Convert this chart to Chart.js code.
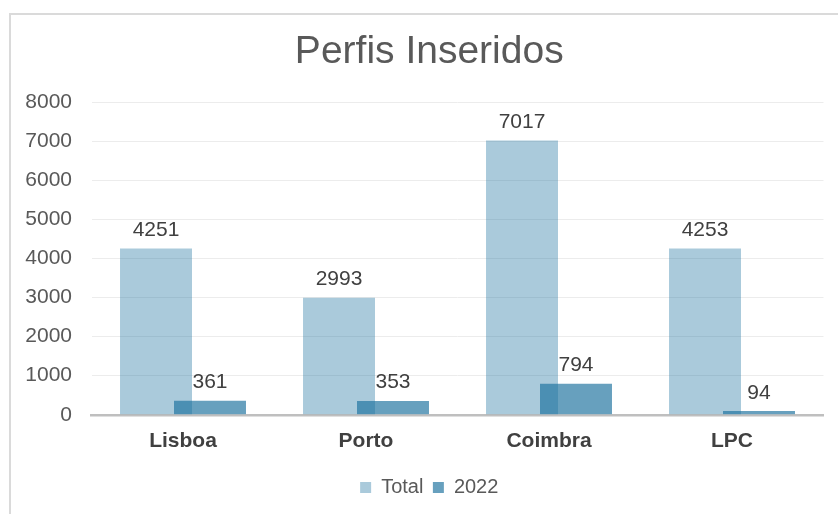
<!DOCTYPE html>
<html>
<head>
<meta charset="utf-8">
<script src="https://cdn.jsdelivr.net/npm/chart.js@4/dist/chart.umd.min.js"></script>
<style>
  html, body { margin: 0; padding: 0; background: #ffffff; overflow: hidden; }
  #wrap { position: relative; width: 838px; height: 514px; }
  #frame { position: absolute; left: 9px; top: 13px; width: 900px; height: 600px;
           border: 2px solid #dadada; box-sizing: border-box; }
  canvas { position: absolute; left: 0; top: 0; }
</style>
</head>
<body>
<div id="wrap">
  <div id="frame"></div>
  <canvas id="c" width="838" height="514"></canvas>
</div>
<script>
const titleText = "Perfis Inseridos";
const categories = ["Lisboa", "Porto", "Coimbra", "LPC"];
const seriesNames = ["Total", "2022"];
const totalValues = [4251, 2993, 7017, 4253];
const values2022 = [361, 353, 794, 94];
const yTicks = [0, 1000, 2000, 3000, 4000, 5000, 6000, 7000, 8000];

const FONT = "'Liberation Sans', Arial, sans-serif";

const valueLabels = {
  id: 'valueLabels',
  afterDatasetsDraw(chart) {
    const ctx = chart.ctx;
    ctx.save();
    ctx.font = "21px " + FONT;
    ctx.fillStyle = "#404040";
    ctx.textAlign = "center";
    ctx.textBaseline = "alphabetic";
    chart.data.datasets.forEach((ds, di) => {
      const meta = chart.getDatasetMeta(di);
      meta.data.forEach((bar, i) => {
        ctx.fillText(String(ds.data[i]), bar.x, bar.y - 12.5);
      });
    });
    ctx.restore();
  }
};

// shift the centred title and legend blocks slightly right, as in the reference
const shiftBlocks = {
  id: 'shiftBlocks',
  afterLayout(chart) {
    const d = 7.5;
    [chart.titleBlock, chart.legend].forEach(b => {
      if (b) { b.left += d; b.right += d; }
    });
  }
};

new Chart(document.getElementById('c'), {
  type: 'bar',
  data: {
    labels: categories,
    datasets: [
      { label: seriesNames[0], data: totalValues, backgroundColor: "rgba(31,115,160,0.38)",
        categoryPercentage: 0.59, barPercentage: 1.3333 },
      { label: seriesNames[1], data: values2022, backgroundColor: "rgb(103,160,190)",
        categoryPercentage: 0.59, barPercentage: 1.3333 }
    ]
  },
  options: {
    responsive: false,
    animation: false,
    devicePixelRatio: 1,
    layout: { padding: { left: 20, right: 14.5, top: 0, bottom: 6.5 } },
    plugins: {
      title: {
        display: true, text: titleText, color: "#595959",
        font: { family: FONT, size: 39, weight: 'normal' },
        padding: { top: 29.1, bottom: 26.1 }
      },
      legend: {
        display: true, position: 'bottom',
        labels: {
          boxWidth: 11, boxHeight: 11, padding: 9.5, color: "#595959",
          font: { family: FONT, size: 20 }
        }
      },
      tooltip: { enabled: false }
    },
    scales: {
      x: {
        grid: { display: false, drawTicks: false },
        border: { display: true, color: "#bfbfbf", width: 2.5 },
        ticks: { color: "#404040", padding: 14, font: { family: FONT, size: 21, weight: 'bold' } }
      },
      y: {
        min: 0, max: 8000,
        afterBuildTicks(scale) { scale.ticks = yTicks.map(v => ({ value: v })); },
        afterFit(scale) { scale.width = 71.5; },
        grid: { color: "#ececec", lineWidth: 1, drawTicks: false },
        border: { display: false },
        ticks: { color: "#595959", padding: 19.5, font: { family: FONT, size: 21 },
                 callback: (v) => String(v) }
      }
    }
  },
  plugins: [valueLabels, shiftBlocks]
});
</script>
</body>
</html>
